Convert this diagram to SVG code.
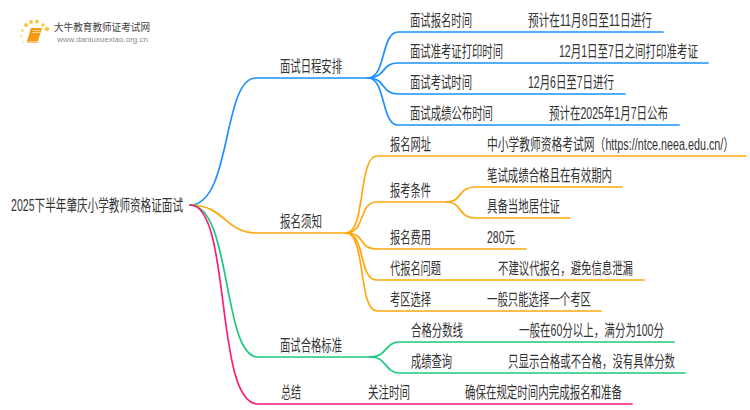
<svg xmlns="http://www.w3.org/2000/svg" width="750" height="410" viewBox="0 0 750 410">
<style>
text{font-family:"Liberation Sans","Noto Sans CJK SC",sans-serif;font-size:16px;fill:#333;}
.c{fill:none;stroke-width:1.7;stroke-linecap:round;}
.b{stroke:#1e90ff;}.o{stroke:#ffa80f;}.g{stroke:#1cc97a;}.p{stroke:#ff1a78;}
.dot{fill:#fbc44a;}
</style>
<rect width="750" height="410" fill="#fff"/>
<g id="logo">
<circle cx="47" cy="29" r="2.3" class="dot"/><circle cx="43" cy="25" r="1.8" class="dot"/><circle cx="26" cy="25" r="2" class="dot"/><circle cx="31" cy="22" r="2" class="dot"/><circle cx="37" cy="21.500" r="2" class="dot"/><circle cx="22.500" cy="30.500" r="1.500" class="dot" opacity=".7"/><circle cx="21.500" cy="36" r="1.300" class="dot" opacity=".5"/><circle cx="23" cy="42" r="1" class="dot" opacity=".4"/>
<path d="M31 28H42L38 41H27Z" fill="#f59a13"/><path d="M27 41H38L37.500 42.500H27.500Z" fill="#fde2b0" stroke="#ef8a10" stroke-width=".5"/>
<path d="M33 30.500H40M32.500 32.500H39.500" stroke="#fff3d8" stroke-width=".7"/>
<text x="54" y="31" textLength="96" lengthAdjust="spacingAndGlyphs" style="font-size:10.500px;fill:#444">大牛教育教师证考试网</text>
<text x="57" y="42" textLength="91" lengthAdjust="spacingAndGlyphs" style="font-size:6.500px;fill:#8a8a8a">www.daniuxuexiao.org.cn</text>
</g>
<g id="connectors">
<path class="c b" d="M190 205C232 205 222 78 256 78H368"/>
<path class="c b" d="M368 78C386 78 381 32 398 32H663"/>
<path class="c b" d="M368 78C386 78 381 63 398 63H708"/>
<path class="c b" d="M368 78C386 78 381 94 398 94H625"/>
<path class="c b" d="M368 78C386 78 381 125 398 125H679"/>
<path class="c o" d="M190 205C225 205 225 233 256 233H346"/>
<path class="c o" d="M346 233C366 233 358 156 377 156H746"/>
<path class="c o" d="M346 233C366 233 358 202 377 202H447"/>
<path class="c o" d="M447 202C462 202 458 187 475 187H622"/>
<path class="c o" d="M447 202C462 202 458 218 475 218H570"/>
<path class="c o" d="M346 233C366 233 358 249 377 249H526"/>
<path class="c o" d="M346 233C366 233 358 280 377 280H644"/>
<path class="c o" d="M346 233C366 233 358 311 377 311H601"/>
<path class="c g" d="M190 205C232 205 222 357 258 357H370"/>
<path class="c g" d="M370 357C388 357 384 342 400 342H674"/>
<path class="c g" d="M370 357C388 357 384 373 400 373H685"/>
<path class="c p" d="M190 205C232 205 214 404 258 404H632"/>
</g>
<g id="root"><text x="11" y="211" textLength="172" lengthAdjust="spacingAndGlyphs">2025下半年肇庆小学教师资格证面试</text></g>
<g id="n1"><text x="280" y="72" textLength="62" lengthAdjust="spacingAndGlyphs">面试日程安排</text></g>
<g id="n1a"><text x="410" y="26" textLength="62" lengthAdjust="spacingAndGlyphs">面试报名时间</text><text x="528" y="26" textLength="124" lengthAdjust="spacingAndGlyphs">预计在11月8日至11日进行</text></g>
<g id="n1b"><text x="410" y="57" textLength="93" lengthAdjust="spacingAndGlyphs">面试准考证打印时间</text><text transform="translate(559 57) scale(.65 1)" textLength="214" lengthAdjust="spacingAndGlyphs">12月1日至7日之间打印准考证</text></g>
<g id="n1c"><text x="410" y="88" textLength="62" lengthAdjust="spacingAndGlyphs">面试考试时间</text><text x="528" y="88" textLength="86" lengthAdjust="spacingAndGlyphs">12月6日至7日进行</text></g>
<g id="n1d"><text x="410" y="119" textLength="83" lengthAdjust="spacingAndGlyphs">面试成绩公布时间</text><text x="549" y="119" textLength="119" lengthAdjust="spacingAndGlyphs">预计在2025年1月7日公布</text></g>
<g id="n2"><text x="280" y="227" textLength="42" lengthAdjust="spacingAndGlyphs">报名须知</text></g>
<g id="n2a"><text x="390" y="150" textLength="41" lengthAdjust="spacingAndGlyphs">报名网址</text><text transform="translate(487 150) scale(.65 1)" textLength="380" lengthAdjust="spacingAndGlyphs">中小学教师资格考试网（https://ntce.neea.edu.cn/）</text></g>
<g id="n2b"><text x="390" y="196" textLength="41" lengthAdjust="spacingAndGlyphs">报考条件</text></g>
<g id="n2b1"><text x="487" y="181" textLength="125" lengthAdjust="spacingAndGlyphs">笔试成绩合格且在有效期内</text></g>
<g id="n2b2"><text x="487" y="212" textLength="73" lengthAdjust="spacingAndGlyphs">具备当地居住证</text></g>
<g id="n2c"><text x="390" y="243" textLength="41" lengthAdjust="spacingAndGlyphs">报名费用</text><text x="487" y="243" textLength="28" lengthAdjust="spacingAndGlyphs">280元</text></g>
<g id="n2d"><text x="390" y="274" textLength="51" lengthAdjust="spacingAndGlyphs">代报名问题</text><text x="498" y="274" textLength="135" lengthAdjust="spacingAndGlyphs">不建议代报名，避免信息泄漏</text></g>
<g id="n2e"><text x="390" y="305" textLength="41" lengthAdjust="spacingAndGlyphs">考区选择</text><text x="487" y="305" textLength="104" lengthAdjust="spacingAndGlyphs">一般只能选择一个考区</text></g>
<g id="n3"><text x="280" y="351" textLength="62" lengthAdjust="spacingAndGlyphs">面试合格标准</text></g>
<g id="n3a"><text x="411" y="336" textLength="52" lengthAdjust="spacingAndGlyphs">合格分数线</text><text x="519" y="336" textLength="145" lengthAdjust="spacingAndGlyphs">一般在60分以上，满分为100分</text></g>
<g id="n3b"><text x="411" y="367" textLength="41" lengthAdjust="spacingAndGlyphs">成绩查询</text><text transform="translate(508 367) scale(.65 1)" textLength="257" lengthAdjust="spacingAndGlyphs">只显示合格或不合格，没有具体分数</text></g>
<g id="n4"><text x="281" y="398" textLength="20" lengthAdjust="spacingAndGlyphs">总结</text></g>
<g id="n4a"><text x="368" y="398" textLength="42" lengthAdjust="spacingAndGlyphs">关注时间</text><text x="465" y="398" textLength="157" lengthAdjust="spacingAndGlyphs">确保在规定时间内完成报名和准备</text></g>
</svg>
